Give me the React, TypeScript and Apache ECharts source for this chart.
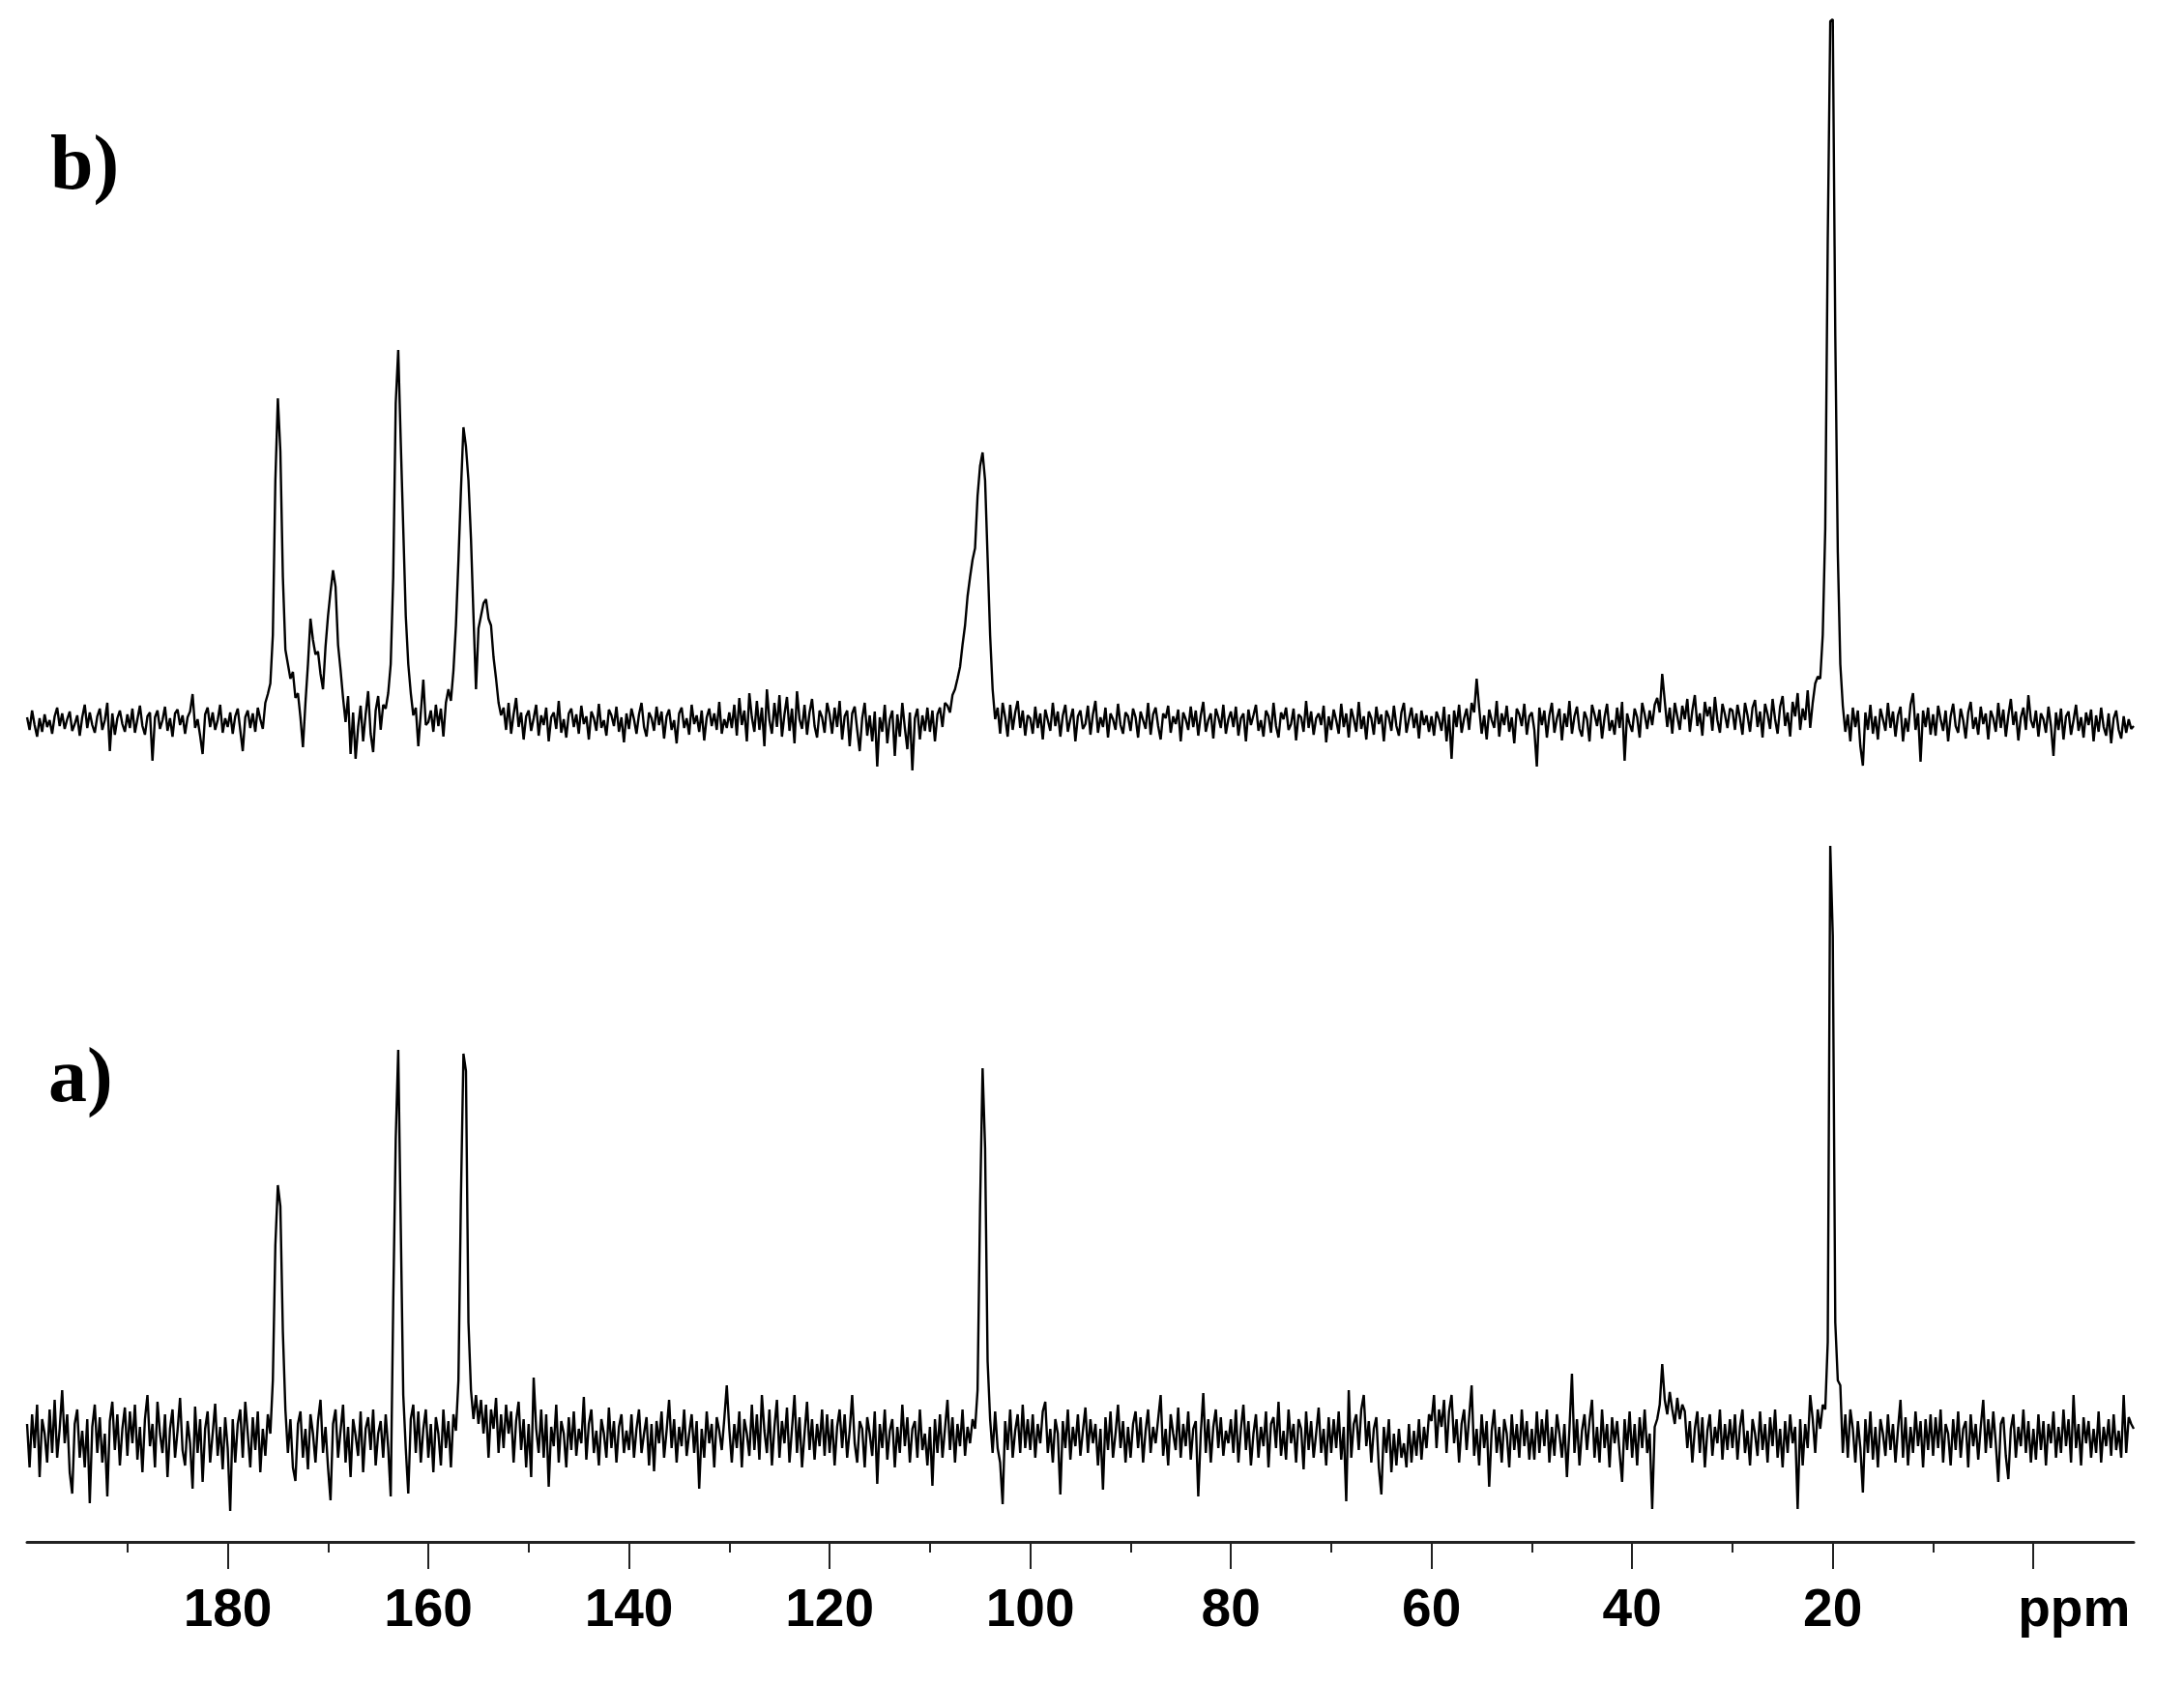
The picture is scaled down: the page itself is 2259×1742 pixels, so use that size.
import React, { useEffect, useRef } from "react";
import * as echarts from "echarts";

// Spectrum grid: each row covers 10 ppm, 40 points at 0.25 ppm steps, starting at 200 ppm.
const ROW_START = 200;
const ROW_SPAN = 10;
const PPM_STEP = 0.25;

// Trace b) intensities (px-like units above its baseline)
const specB: number[][] = [
  [5,-8,12,-3,-15, 4,-10,8,-5,2, -12,6,15,-4,9, -7,3,11,-9,-2, 7,-14,5,18,-6, 10,-3,-11,6,14, -8,2,20,-30,9, -13,4,12,-2,-10],
  [8,-6,14,-11,3, 17,-4,-13,6,10, -40,5,12,-7,2, 16,-9,4,-15,9, 13,-3,7,-12,5, 11,29,-6,3,-14, -33,8,15,-5,10, -8,2,18,-11,4],
  [-5,10,-12,6,14, -8,-30,5,12,-6, 9,-10,15,3,-7, 20,29,40,90,250, 335,280,150,75,60, 45,52,25,30,5, -26,20,60,107,85, 70,73,50,34,78],
  [110,135,157,140,80, 54,25,0,27,-33, 10,-38,-5,17,-20, 8,32,-12,-31,12, 27,-8,18,14,30, 60,150,330,385,290, 200,110,60,30,7, 15,-25,10,44,-3],
  [0,12,-10,18,-4, 14,-15,20,34,22, 53,100,167,240,305, 285,250,190,110,34, 97,110,123,127,107, 100,67,45,20,7, 15,-8,20,-12,8, 25,-5,10,-18,6],
  [12,-9,4,18,-14, 7,-3,15,-20,5, 10,-7,22,-11,3, -16,9,14,-5,8, -12,17,-2,6,-18, 11,4,-9,19,-6, 2,-14,13,7,-4, 16,-10,5,-21,9],
  [-7,14,3,-12,8, 20,-5,-15,10,4, -9,16,-3,11,-17, 6,13,-8,2,-22, 9,15,-6,4,-13, 18,-2,7,-10,12, -19,5,14,-4,9, -8,21,-12,3,-6],
  [10,-6,18,-14,25, -3,12,-20,30,5, -10,22,-8,15,-25, 34,2,-12,20,-5, 28,-15,8,26,-9, 14,-22,32,3,-7, 18,-13,10,24,-4, -16,12,5,-11,20],
  [8,-12,15,-5,22, -18,6,12,-25,9, 16,-8,-30,4,20, -14,7,-20,11,-46, 5,-10,18,-22,3, 12,-35,8,-15,20, -6,-28,10,-50,4, 14,-18,7,-9,15],
  [-10,12,-20,8,15, -5,20,17,10,28, 34,45,57,80,100, 130,150,168,180,234, 265,279,250,170,90, 34,3,15,-12,20, 5,-15,18,-8,10, 22,-6,12,-14,7],
  [4,-12,16,-6,9, -18,13,2,-9,20, -4,11,-15,7,18, -10,3,14,-20,6, 12,-7,-2,17,-13, 8,22,-11,5,-5, 15,-16,9,3,-8, 19,-3,-12,10,6],
  [-9,14,5,-16,11, 2,-7,20,-13,8, 15,-4,-18,9,4, 17,-11,6,-2,13, -20,10,3,-8,16, -5,12,-14,7,21, -10,2,9,-17,14, 5,-6,18,-12,3],
  [11,-5,16,-14,4, 9,-20,13,-3,7, 18,-9,2,-15,12, 6,-11,20,-4,-16, 10,3,15,-8,-2, 14,-19,8,5,-10, 22,-6,11,-13,4, 9,-3,17,-21,6],
  [-8,13,2,-12,19, -5,9,-16,14,3, -10,21,-7,6,-18, 11,4,-13,16,-2, 8,-20,12,5,-9, 17,-4,-14,10,20, -11,3,15,-6,9, -17,12,-3,7,-10],
  [6,-14,11,3,-9, 16,-20,8,-38,12, -5,18,-11,4,14, -8,20,10,45,15, -12,7,-18,13,2, -6,22,-15,9,-3, 17,-10,5,-22,14, 8,-4,19,-13,6],
  [10,-8,-46,15,-3, 12,-16,7,20,-11, 4,14,-19,9,-5, 22,-12,6,16,-7, -15,11,3,-20,18, 8,-4,13,-17,5, 19,-9,2,-13,15, -6,21,-40,9,-2],
  [-10,14,5,-16,20, 8,-7,12,-3,18, 25,10,50,22,-5, 15,-12,20,6,-8, 17,3,24,-10,12, 28,-4,9,-14,21, 6,16,-9,26,2, -11,19,8,-6,14],
  [12,-8,18,4,-13, 20,7,-10,15,23, -5,11,-16,19,8, -7,24,3,-12,16, 27,-4,10,-15,21, 6,30,-8,14,2, 33,-6,20,40,47, 45,90,200,500,725],
  [727,400,176,60,17, -10,8,-20,15,-5, 12,-25,-45,10,-8, 18,-12,6,-18,14, 3,-9,20,-6,11, -15,7,16,-20,4, -10,18,30,-8,9, -41,12,-5,15,-13],
  [8,-14,17,3,-9, 12,-20,6,19,-4, -11,14,2,-17,10, 21,-7,5,-13,16, -2,9,-18,12,4, -10,20,-6,13,-15, 7,24,-3,11,-19, 5,15,-8,28,2],
  [-6,12,-15,9,3, -11,16,-4,-35,10, -8,14,-18,6,11, -13,2,18,-9,5, -16,10,-3,13,-20, 7,-10,15,-5,-14, 9,-22,4,12,-8, -17,6,-11,3,-7],
  [-4],
];

// Trace a) intensities
const specA: number[][] = [
  [15,-30,25,-10,35, -40,20,5,-25,30, -15,40,-20,10,50, -5,25,-35,-57,15, 30,-20,8,-30,20, -67,12,35,-15,22, -25,5,-60,18,38, -12,25,-28,10,32],
  [-18,28,-5,35,-22, 12,-35,20,45,-8, 15,-30,38,5,-15, 25,-40,10,30,-20, 8,42,-12,-28,18, -5,-52,33,-15,20, -45,10,28,-25,5, 36,-18,12,-32,22],
  [-10,-75,20,-25,15, 30,-20,38,5,-30, 22,-12,28,-35,10, -18,25,5,60,200, 262,240,110,30,-15, 20,-30,-44,15,28, -20,10,-32,25,5, -25,18,40,-15,12],
  [-30,-64,15,30,-20, 8,35,-25,12,-40, 20,3,-18,28,-35, 10,22,-12,30,-28, 5,18,-20,25,-10, -60,140,310,402,220, 45,-10,-57,20,35, -15,28,-25,10,30],
  [-20,15,-35,22,5, -28,30,-10,18,-30, 25,8,60,250,398, 380,120,50,20,45, 15,40,5,35,-20, 30,10,42,-15,25, -10,35,5,28,-25, 18,38,-12,20,-30],
  [15,-40,63,10,-15, 30,-20,25,-50,12, -8,35,-25,18,5, -30,22,-12,28,-18, 10,-5,43,-22,15, 30,-15,8,-28,20, 5,-20,32,-10,18, -25,12,25,-15,8],
  [-12,25,-20,10,30, -15,5,22,-28,15, -34,18,-5,28,-20, 8,40,-10,20,-25, 12,-8,30,-18,5, 25,-15,18,-52,10, -20,28,-5,15,-30, 22,8,-12,20,55],
  [10,-25,15,-10,28, -30,20,5,-18,35, -12,25,-22,45,8, -15,30,-28,12,40, -20,18,-5,32,-25, 10,45,-15,22,-30, 5,38,-12,20,-22, 15,-8,30,-18,25],
  [-15,20,-28,12,30, -10,25,-20,8,45, -5,-25,18,10,-30, 22,5,-18,28,-47, 15,-10,30,-22,8, 20,-30,12,-15,35, -8,22,-25,10,18, -20,30,-12,5,-28],
  [12,-49,20,-15,25, -20,10,40,-12,22, -25,15,-8,30,-18, 12,-5,20,10,50, 240,383,300,80,20, -15,28,-10,-25,-68, 18,-12,30,-20,8, 25,-15,35,-10,20],
  [-12,25,-20,15,-5, 28,38,-15,10,-25, 20,5,-58,18,-10, 30,-22,12,-8,25, -18,8,32,-15,20, -5,15,-28,10,-53, 22,-12,28,-20,5, 35,-10,18,-25,12],
  [-20,15,28,-10,22, -25,8,30,-15,12, -5,20,45,-18,10, -28,25,5,-12,32, -20,15,-8,28,-22, 10,18,-60,5,47, -15,20,-25,12,30, -10,22,-18,8,-5],
  [20,-15,30,-25,10, 35,-12,18,-28,5, 25,-20,12,-8,28, -30,15,22,-10,38, -18,8,-22,30,-5, 15,-25,20,10,-32, 28,-12,18,-20,5, 32,-15,10,-28,22],
  [-15,20,-10,28,-22, 12,-65,50,-20,15, 25,-12,30,45,-8, 18,-25,10,22,-30, -58,12,-15,20,-35, 5,-28,10,-20,-5, -30,15,-25,8,-18, 20,-22,12,-10,25],
  [18,45,-10,30,12, 40,-15,28,45,-5, 20,-25,15,30,-12, 22,55,-18,10,-28, 25,-10,18,-50,8, 30,-15,12,-25,20, 5,-30,25,-12,15, -20,30,-8,18,-22],
  [10,-22,28,-15,20, -8,30,-25,12,-18, 25,5,-20,15,-40, 10,67,-15,20,-28, 8,25,-12,18,40, -20,12,-25,30,-10, 15,-30,22,-5,18, -15,-45,20,-12,28],
  [-20,15,-28,22,-10, 30,-15,5,-73,12, 20,35,77,40,25, 48,30,15,42,20, 35,28,-10,18,-25, 10,28,-15,22,-30, 8,25,-18,12,-5, 30,-22,15,-12,20],
  [-10,25,-22,12,30, -15,8,-28,20,5, -18,28,-12,15,-25, 22,-8,30,-20,10, -30,18,-15,25,-5, 12,-73,20,-28,15, -10,45,20,-15,30, 10,35,30,100,613],
  [520,120,60,55,-15, 25,-20,30,10,-25, 18,-10,-56,20,-15, 28,-22,12,-30,20, 5,-18,25,-12,15, -25,10,40,-20,22, -28,12,-15,28,-8, 18,-30,20,-12,25],
  [-18,22,-10,30,-25, 15,5,-28,20,-12, 28,-20,10,18,-30, 25,-8,15,-22,12, 40,-15,20,-10,28, -5,-45,15,22,-18, -42,10,25,-20,12, -8,30,-15,18,-25],
  [10,-22,25,-12,18, -28,15,-5,28,-20, 12,-15,30,-8,20, -25,45,-10,15,-28, 22,-5,18,-20,10, -15,28,-25,12,-8, 20,-18,25,-12,8, -20,45,-15,22,15],
  [10],
];

const MAJOR_TICKS = [0, 20, 40, 60, 80, 100, 120, 140, 160, 180];
const MINOR_TICKS = [10, 30, 50, 70, 90, 110, 130, 150, 170, 190];
const X_MIN = -10;
const X_MAX = 200;

function toSeries(rows: number[][]): [number, number][] {
  const out: [number, number][] = [];
  rows.forEach((row, r) => {
    row.forEach((v, j) => {
      out.push([ROW_START - r * ROW_SPAN - j * PPM_STEP, v]);
    });
  });
  return out;
}

export default function App() {
  const ref = useRef<HTMLDivElement>(null);
  useEffect(() => {
    if (!ref.current) return;
    const chart = echarts.init(ref.current, undefined, { renderer: "svg" });
    const axisFont = "'Liberation Sans', Arial, Helvetica, sans-serif";
    const labelFont = "'Liberation Serif', 'Times New Roman', serif";
    chart.setOption({
      animation: false,
      backgroundColor: "#ffffff",
      grid: { left: 28, right: 52, top: 0, bottom: 147, containLabel: false },
      xAxis: [
        {
          type: "value",
          min: X_MIN,
          max: X_MAX,
          inverse: true,
          position: "bottom",
          axisLine: { show: true, onZero: false, lineStyle: { color: "#222", width: 3 } },
          axisTick: { show: true, customValues: MAJOR_TICKS, length: 28, lineStyle: { color: "#222", width: 2 } },
          axisLabel: {
            show: true,
            customValues: MAJOR_TICKS,
            margin: 40,
            fontSize: 55,
            fontWeight: "bold",
            fontFamily: axisFont,
            color: "#000",
            formatter: (v: number) => (v === 0 ? "{p|ppm}" : String(v)),
            rich: {
              p: { fontSize: 55, fontWeight: "bold", fontFamily: axisFont, color: "#000", padding: [0, 0, 0, 84] },
            },
          },
          splitLine: { show: false },
        },
        {
          type: "value",
          min: X_MIN,
          max: X_MAX,
          inverse: true,
          position: "bottom",
          offset: 0,
          axisLine: { show: false, onZero: false },
          axisTick: { show: true, customValues: MINOR_TICKS, length: 11, lineStyle: { color: "#222", width: 2 } },
          axisLabel: { show: false },
          splitLine: { show: false },
        },
      ],
      yAxis: [
        { type: "value", min: -107, max: 1488, show: false, splitLine: { show: false } },
        { type: "value", min: -848, max: 747, show: false, splitLine: { show: false } },
      ],
      graphic: [
        {
          type: "text",
          left: 52,
          top: 128,
          style: { text: "b)", font: `bold 80px ${labelFont}`, fill: "#000" },
        },
        {
          type: "text",
          left: 50,
          top: 1072,
          style: { text: "a)", font: `bold 80px ${labelFont}`, fill: "#000" },
        },
      ],
      series: [
        {
          type: "line",
          name: "a",
          xAxisIndex: 0,
          yAxisIndex: 0,
          data: toSeries(specA),
          showSymbol: false,
          symbol: "none",
          lineStyle: { color: "#000", width: 2.4 },
          silent: true,
        },
        {
          type: "line",
          name: "b",
          xAxisIndex: 0,
          yAxisIndex: 1,
          data: toSeries(specB),
          showSymbol: false,
          symbol: "none",
          lineStyle: { color: "#000", width: 2.4 },
          silent: true,
        },
      ],
    });
    return () => chart.dispose();
  }, []);
  return (
    <div
      ref={ref}
      style={{ position: "absolute", left: 0, top: 0, width: 2259, height: 1742, background: "#fff" }}
    />
  );
}
